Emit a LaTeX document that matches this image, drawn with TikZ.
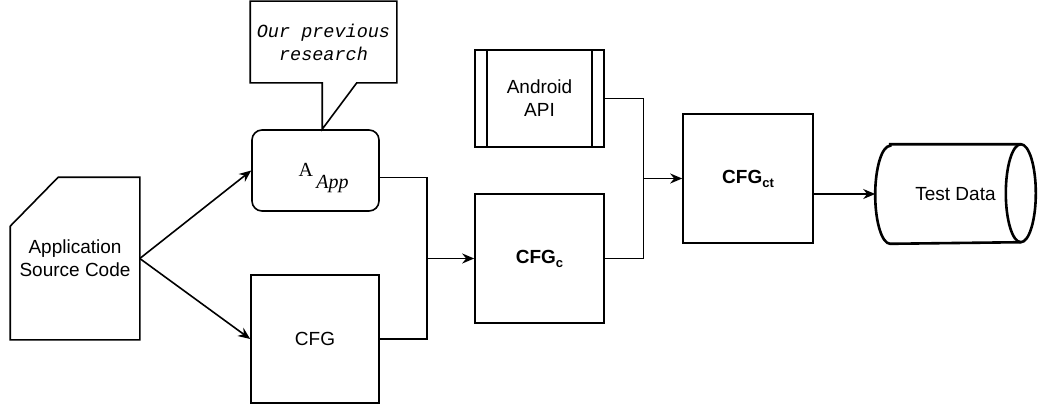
\documentclass[tikz,border=0pt]{standalone}
\usepackage{fontspec}
\setmainfont{Liberation Sans}
\newfontfamily\monoit{Liberation Mono}
\newfontfamily\serifrm{Liberation Serif}
\usetikzlibrary{calc, positioning, arrows.meta}

\begin{document}
\begin{tikzpicture}
		[x=1pt, y=-1pt, line width=1.6pt,
		 every node/.style={font=\fontsize{19}{23}\selectfont, align=center, inner sep=0pt},
		 box/.style={rectangle, draw, minimum width=129pt, minimum height=129pt},
		 arr/.style={-{Stealth[length=12pt, width=10pt]}}]
		\useasboundingbox (0,0) rectangle (1040,412);
		% nodes %
		\node[minimum width=128pt, minimum height=161pt] (src) at (75,258.5) {Application\\Source Code};
		\node[rectangle, draw, rounded corners=10pt, minimum width=127pt, minimum height=81pt] (aapp) at (315.5,170.5)
			{\hspace*{16pt}\raisebox{-6pt}[0pt][0pt]{\serifrm\fontsize{20}{20}\selectfont A\,\raisebox{-12pt}{\itshape App}}};
		\node[box, minimum width=128pt, minimum height=128pt] (cfg) at (315,339) {CFG};
		\node[minimum width=145pt, minimum height=80pt, font=\monoit\itshape\fontsize{18.5}{23}\selectfont] (note) at (323.5,42) {Our previous\\research};
		\node[box, minimum height=97pt] (api) at (539.5,98.5) {Android\\API};
		\node[box] (cfgc) at (539.5,258.5) {\bfseries CFG\raisebox{-4pt}{\fontsize{13}{13}\selectfont c}};
		\node[box, minimum width=130pt] (cfgct) at (748,178.5) {\bfseries CFG\raisebox{-4pt}{\fontsize{13}{13}\selectfont ct}};
		\node[minimum width=159pt, minimum height=98pt] (test) at (955.5,194) {Test Data};

		% outlines %
		\draw (src.south west) -- ([yshift=-49pt]src.north west) -- ([xshift=48pt]src.north west) -- (src.north east) -- (src.south east) -- cycle;
		\coordinate (pb) at ([xshift=72pt]note.south west);
		\coordinate (tip) at (pb |- aapp.north);
		\draw (pb) -- (note.south west) -- (note.north west) -- (note.north east) -- (note.south east) -- ([xshift=-40pt]note.south east) -- (tip) -- cycle;
		\draw ([xshift=13pt]api.north west) -- ([xshift=13pt]api.south west);
		\draw ([xshift=-13pt]api.north east) -- ([xshift=-13pt]api.south east);
		\draw[line width=2.6pt] ([xshift=15pt]test.north west) -- ([xshift=-15pt]test.north east)
			arc[start angle=90, end angle=-90, x radius=15pt, y radius=49pt] -- ([xshift=15pt]test.south west)
			arc[start angle=270, end angle=90, x radius=15pt, y radius=49pt] -- cycle;
		\draw[line width=2.6pt] ([xshift=-15pt]test.north east) arc[start angle=90, end angle=270, x radius=15pt, y radius=49pt];

		% edges %
		\coordinate (m1) at ($(cfg.east)!0.5!(cfgc.west)$);
		\coordinate (m2) at ($(cfgc.east)!0.5!(cfgct.west)$);
		\draw[arr] (src.east) -- (aapp.west);
		\draw[arr] (src.east) -- (cfg.west);
		\draw ([yshift=-7pt]aapp.east) -| (m1 |- cfgc.west);
		\draw (cfg.east) -| (m1 |- cfgc.west);
		\draw[arr] (m1 |- cfgc.west) -- (cfgc.west);
		\draw (api.east) -| (m2 |- cfgct.west);
		\draw (cfgc.east) -| (m2 |- cfgct.west);
		\draw[arr] (m2 |- cfgct.west) -- (cfgct.west);
		\draw[arr] (cfgct.east |- test.west) -- (test.west);
\end{tikzpicture}
\end{document}
